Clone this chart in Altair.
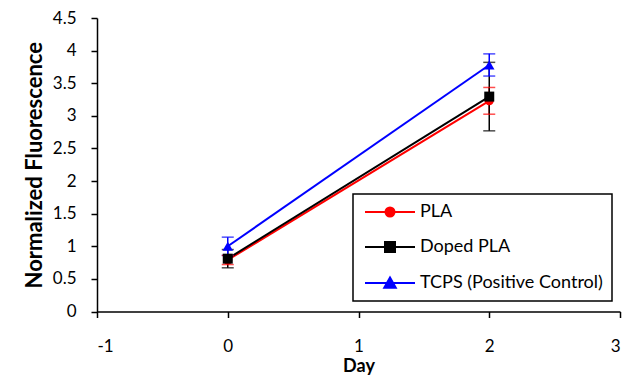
import altair as alt
import pandas as pd

# ---- data ----
series = ["PLA", "Doped PLA", "TCPS (Positive Control)"]
days = [0, 2]
pla_vals = [0.79, 3.23]
pla_err = [0.07, 0.205]
doped_vals = [0.81, 3.295]
doped_err = [0.14, 0.525]
tcps_vals = [1.00, 3.78]
tcps_err = [0.14, 0.17]
x_ticks = [-1, 0, 1, 2, 3]
y_ticks = [0, 0.5, 1, 1.5, 2, 2.5, 3, 3.5, 4, 4.5]

# ---- styles ----
colors = ["#FF0000", "#000000", "#0000FF"]
marker_shapes = ["circle", "square", "triangle-up"]
marker_sizes = [81, 100, 110]
legend_paths = [
    "M-5,0L5,0M0.9,0A0.9,0.9,0,1,1,-0.9,0A0.9,0.9,0,1,1,0.9,0Z",
    "M-5,0L5,0M-1,-1L1,-1L1,1L-1,1Z",
    "M-5,0L5,0M0,-1.1L1.15,0.95L-1.15,0.95Z",
]
FONT = "Lato"

rows = []
for name, vals, errs in [(series[0], pla_vals, pla_err),
                         (series[1], doped_vals, doped_err),
                         (series[2], tcps_vals, tcps_err)]:
    for d, v, e in zip(days, vals, errs):
        rows.append({"Series": name, "Day": d, "value": v, "lo": v - e, "hi": v + e})
df = pd.DataFrame(rows)

x_scale = alt.Scale(domain=[-1, 3], nice=False, zero=False)
y_scale = alt.Scale(domain=[0, 4.5], nice=False)
x_axis = alt.Axis(values=x_ticks, title="Day", labelExpr="'' + datum.value",
                  labelPadding=21, titlePadding=3, titleFontSize=18, labelOverlap=False)
y_axis = alt.Axis(values=y_ticks, title="Normalized Fluorescence",
                  labelExpr="'' + datum.value", labelPadding=15, titlePadding=6,
                  titleFontSize=22, labelOverlap=False)

legend_def = alt.Legend(title=None, orient="none", legendX=256, legendY=176,
                        padding=9, symbolOffset=19, labelOffset=21,
                        rowPadding=17, symbolSize=100, symbolStrokeWidth=2,
                        symbolOpacity=1,
                        labelFont=FONT, labelFontSize=18, labelColor="#000000",
                        strokeColor="#000000", fillColor="#FFFFFF", labelLimit=400)


def X():
    return alt.X("Day:Q", scale=x_scale, axis=x_axis)


def Y(field):
    return alt.Y(field + ":Q", scale=y_scale, axis=y_axis)


def C():
    return alt.Color("Series:N", scale=alt.Scale(domain=series, range=colors), legend=legend_def)


base = alt.Chart(df)

lines = base.mark_line(strokeWidth=2).encode(x=X(), y=Y("value"), color=C())
err_rules = base.mark_rule(strokeWidth=1.5).encode(x=X(), y=Y("lo"), y2="hi:Q", color=C())
cap_lo = base.mark_tick(orient="horizontal", size=12, thickness=1.5).encode(x=X(), y=Y("lo"), color=C())
cap_hi = base.mark_tick(orient="horizontal", size=12, thickness=1.5).encode(x=X(), y=Y("hi"), color=C())

marker_layers = []
for name, shp, sz in zip(series, marker_shapes, marker_sizes):
    marker_layers.append(
        base.transform_filter(alt.datum.Series == name)
        .mark_point(shape=shp, filled=True, size=sz, opacity=1)
        .encode(x=X(), y=Y("value"), color=C())
    )

legend_layer = base.transform_filter("false").mark_point(filled=True, size=100, opacity=1).encode(
    x=X(), y=Y("value"), color=C(),
    stroke=alt.Stroke("Series:N", scale=alt.Scale(domain=series, range=colors), legend=legend_def),
    shape=alt.Shape("Series:N", scale=alt.Scale(domain=series, range=legend_paths), legend=legend_def),
)

chart = alt.layer(lines, err_rules, cap_lo, cap_hi, *marker_layers, legend_layer).properties(
    width=523, height=293.5,
    autosize=alt.AutoSizeParams(type="none"),
    padding={"left": 89, "top": 10, "right": 15, "bottom": 68},
).configure_view(stroke=None).configure_axis(
    grid=False,
    domainColor="#000000", domainWidth=1.5,
    tickColor="#000000", tickWidth=1.5, tickSize=6,
    labelFont=FONT, labelFontSize=17, labelColor="#000000",
    titleFont=FONT, titleFontWeight="bold", titleColor="#000000",
).configure_legend(strokeWidth=1.5)

chart.save("out.html", embed_options={"renderer": "svg", "actions": False})
